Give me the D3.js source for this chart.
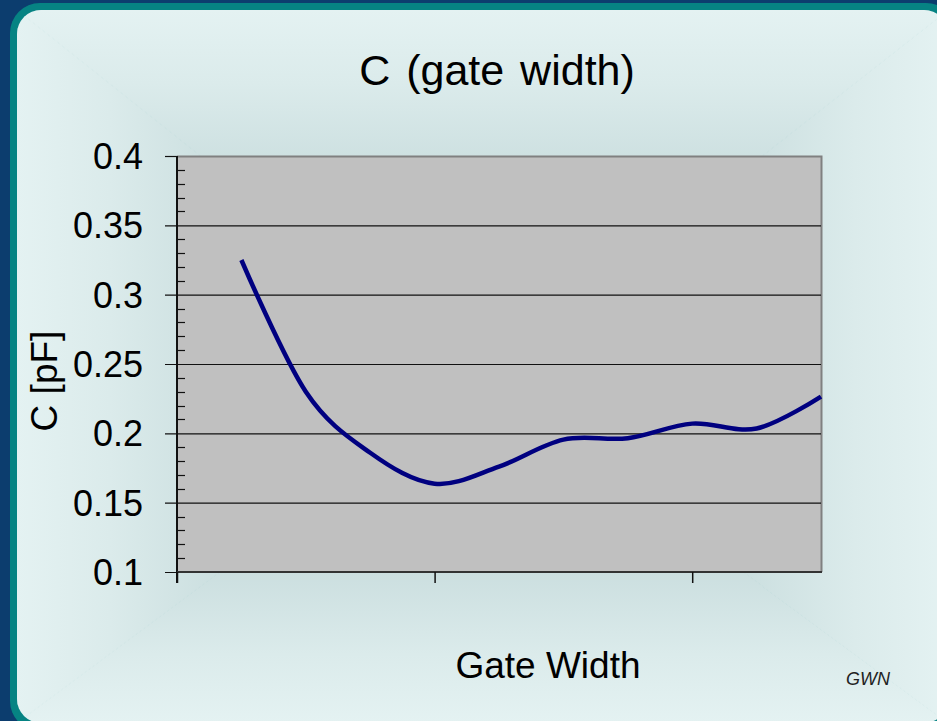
<!DOCTYPE html>
<html>
<head>
<meta charset="utf-8">
<script src="https://cdn.jsdelivr.net/npm/d3@7"></script>
<style>
  html, body { margin: 0; padding: 0; background: #0c3d6e; }
  svg { display: block; }
  text { font-family: "Liberation Sans", Arial, sans-serif; }
</style>
</head>
<body>
<svg id="chart" width="937" height="721"></svg>
<script>
// Gate width (arbitrary units) and measured capacitance in pF
const gateWidth = [1, 2, 3, 4, 5, 6, 7, 8, 9, 10];
const capacitance = [0.325, 0.230, 0.186, 0.1637, 0.176, 0.1955, 0.1965, 0.207, 0.2035, 0.2265];
const yTicks = [0.1, 0.15, 0.2, 0.25, 0.3, 0.35, 0.4];
const xTicks = [0, 4, 8];
const chartTitle = "C (gate width)";
const xTitle = "Gate Width";
const yTitle = "C [pF]";
const author = "GWN";

const W = 937, H = 721;
const svg = d3.select("#chart");
const defs = svg.append("defs");

// Slide backdrop: dark blue field with a teal rounded frame
svg.append("rect").attr("width", W).attr("height", H).attr("fill", "#0c3d6e");
svg.append("rect").attr("x", 10).attr("y", 3).attr("width", 946).attr("height", 728)
  .attr("rx", 30).attr("fill", "#068383");

// Inner panel with a rectangular gradient, light at the edges and darker in the middle
const P = { l: 17, t: 10, r: 948, b: 723 };
const C = { x: 480, y: 378 };
const stops = [[0, "#e4f2f2"], [0.2, "#dbebeb"], [0.55, "#c4d9da"], [1, "#b4cdcf"]];
const clip = defs.append("clipPath").attr("id", "panelClip");
clip.append("rect").attr("x", P.l).attr("y", P.t).attr("width", P.r - P.l)
  .attr("height", P.b - P.t).attr("rx", 24);
const tris = [
  { id: "gT", pts: [[P.l, P.t], [P.r, P.t], [C.x, C.y]], from: [C.x, P.t] },
  { id: "gB", pts: [[P.l, P.b], [P.r, P.b], [C.x, C.y]], from: [C.x, P.b] },
  { id: "gL", pts: [[P.l, P.t], [P.l, P.b], [C.x, C.y]], from: [P.l, C.y] },
  { id: "gR", pts: [[P.r, P.t], [P.r, P.b], [C.x, C.y]], from: [P.r, C.y] }
];
const panel = svg.append("g").attr("clip-path", "url(#panelClip)");
tris.forEach(tr => {
  const g = defs.append("linearGradient").attr("id", tr.id)
    .attr("gradientUnits", "userSpaceOnUse")
    .attr("x1", tr.from[0]).attr("y1", tr.from[1]).attr("x2", C.x).attr("y2", C.y);
  stops.forEach(s => g.append("stop").attr("offset", s[0]).attr("stop-color", s[1]));
  panel.append("polygon")
    .attr("points", tr.pts.map(p => p.join(",")).join(" "))
    .attr("fill", `url(#${tr.id})`)
    .attr("stroke", `url(#${tr.id})`).attr("stroke-width", 1);
});

// Plot area
const plot = { l: 177, t: 156, r: 821, b: 572 };
const x = d3.scaleLinear().domain([0, 10]).range([plot.l, plot.r]);
const y = d3.scaleLinear().domain([0.1, 0.4]).range([plot.b, plot.t]);

svg.append("rect").attr("x", plot.l).attr("y", plot.t)
  .attr("width", plot.r - plot.l).attr("height", plot.b - plot.t)
  .attr("fill", "#c0c0c0");
// frame on top and right
svg.append("path")
  .attr("d", `M${plot.l},${plot.t + 0.5}H${plot.r + 0.5}V${plot.b}`)
  .attr("fill", "none").attr("stroke", "#808080").attr("stroke-width", 2);

// Horizontal gridlines at the major ticks, continuing out as tick marks
const yAxis = d3.axisLeft(y).tickValues(yTicks)
  .tickSize(-(plot.r - plot.l))
  .tickFormat(d => d3.format("")(+d.toFixed(2)));
const yAxisG = svg.append("g").attr("transform", `translate(${plot.l},0)`).call(yAxis);
yAxisG.select(".domain").remove();
yAxisG.selectAll(".tick line").attr("stroke", "#111").attr("stroke-width", 1.2)
  .attr("x1", -12)
  .attr("x2", d => d === 0.4 ? 0 : plot.r - plot.l);
yAxisG.selectAll(".tick text").attr("x", -34).attr("font-size", 36).attr("fill", "#000")
  .attr("dy", "0.35em").style("font-family", "'Liberation Sans', Arial, sans-serif");

// Minor ticks every 0.01 pointing into the plot
const minor = d3.range(11, 40).map(v => v / 100).filter(v => Math.round(v * 100) % 5 !== 0);
svg.append("g").selectAll("line").data(minor).join("line")
  .attr("x1", plot.l).attr("x2", plot.l + 8)
  .attr("y1", d => Math.round(y(d)) + 0.5).attr("y2", d => Math.round(y(d)) + 0.5)
  .attr("stroke", "#111").attr("stroke-width", 1.2);

// Axis lines
svg.append("line").attr("x1", plot.l).attr("x2", plot.l).attr("y1", plot.t).attr("y2", plot.b + 11)
  .attr("stroke", "#111").attr("stroke-width", 2);
const xAxis = d3.axisBottom(x).tickValues(xTicks).tickSize(11).tickFormat("");
const xAxisG = svg.append("g").attr("transform", `translate(0,${plot.b})`).call(xAxis);
xAxisG.select(".domain").attr("stroke", "#333").attr("stroke-width", 2)
  .attr("d", `M${plot.l},0H${plot.r + 1}`);
xAxisG.selectAll(".tick line").attr("stroke", "#111").attr("stroke-width", 1.5);

// Smoothed data curve
const line = d3.line()
  .x((d, i) => x(gateWidth[i]))
  .y(d => y(d))
  .curve(d3.curveCatmullRom.alpha(0));
svg.append("path").datum(capacitance)
  .attr("d", line)
  .attr("fill", "none").attr("stroke", "#000080").attr("stroke-width", 4.5)
  .attr("stroke-linecap", "butt");

// Titles
svg.append("text").attr("x", 497).attr("y", 85).attr("text-anchor", "middle")
  .attr("font-size", 43).attr("fill", "#000").style("word-spacing", "4px").text(chartTitle);
svg.append("text").attr("x", 548).attr("y", 678).attr("text-anchor", "middle")
  .attr("font-size", 37).attr("fill", "#000").text(xTitle);
svg.append("text").attr("transform", "translate(57,381) rotate(-90)")
  .attr("text-anchor", "middle").attr("font-size", 37).attr("fill", "#000").text(yTitle);
svg.append("text").attr("x", 846).attr("y", 685).attr("font-size", 18)
  .attr("font-style", "italic").attr("fill", "#222").text(author);
</script>
</body>
</html>
